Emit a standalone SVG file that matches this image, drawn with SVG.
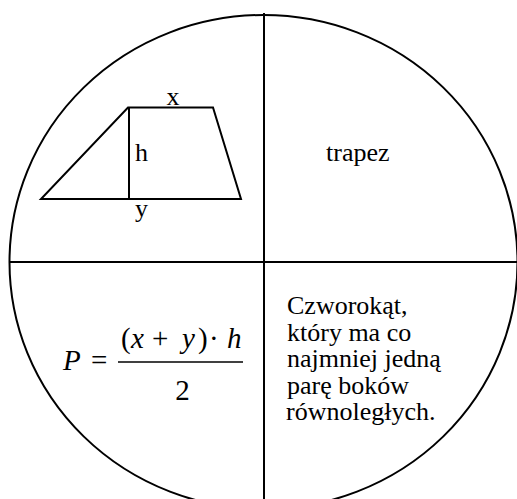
<svg xmlns="http://www.w3.org/2000/svg" width="517" height="499" viewBox="0 0 517 499">
<style>
.ln{fill:none;stroke:#000;stroke-width:2}
.t{font-family:'Liberation Serif','Times New Roman',serif;font-size:26px;fill:#000}
.m{font-family:'Liberation Serif','Times New Roman',serif;font-size:29px;fill:#000}
.i{font-style:italic}
</style>
<rect width="517" height="499" fill="#fff"/>
<g id="frame">
<ellipse class="ln" cx="263.5" cy="262" rx="254" ry="247"/>
</g>
<g id="connectors">
<line class="ln" x1="264" y1="13" x2="264" y2="499"/>
<line class="ln" x1="10" y1="262" x2="517" y2="262"/>
</g>
<g id="trapezoid">
<polygon class="ln" points="128,107.5 213,107.5 241,199 41,199"/>
<line class="ln" x1="129" y1="107.5" x2="129" y2="199"/>
<text class="t" x="173" y="105" text-anchor="middle">x</text>
<text class="t" x="135" y="161">h</text>
<text class="t" x="135" y="217">y</text>
</g>
<g id="name">
<text class="t" x="326" y="161">trapez</text>
</g>
<g id="formula">
<text class="m i" x="63" y="370" font-size="31">P</text>
<text class="m" x="91" y="370">=</text>
<line x1="118" y1="362" x2="243" y2="362" stroke="#000" stroke-width="1.5"/>
<text class="m" y="348"><tspan x="121">(</tspan><tspan class="i" x="131">x</tspan><tspan x="152">+</tspan><tspan class="i" x="182">y</tspan><tspan x="198">)</tspan><tspan x="209">·</tspan><tspan class="i" x="227">h</tspan></text>
<text class="m" x="182.5" y="400" text-anchor="middle">2</text>
</g>
<g id="definition">
<text class="t"><tspan x="287" y="314">Czworokąt,</tspan><tspan x="287" y="340.5">który ma co</tspan><tspan x="287" y="367">najmniej jedną</tspan><tspan x="287" y="393.5">parę boków</tspan><tspan x="286" y="420">równoległych.</tspan></text>
</g>
</svg>
